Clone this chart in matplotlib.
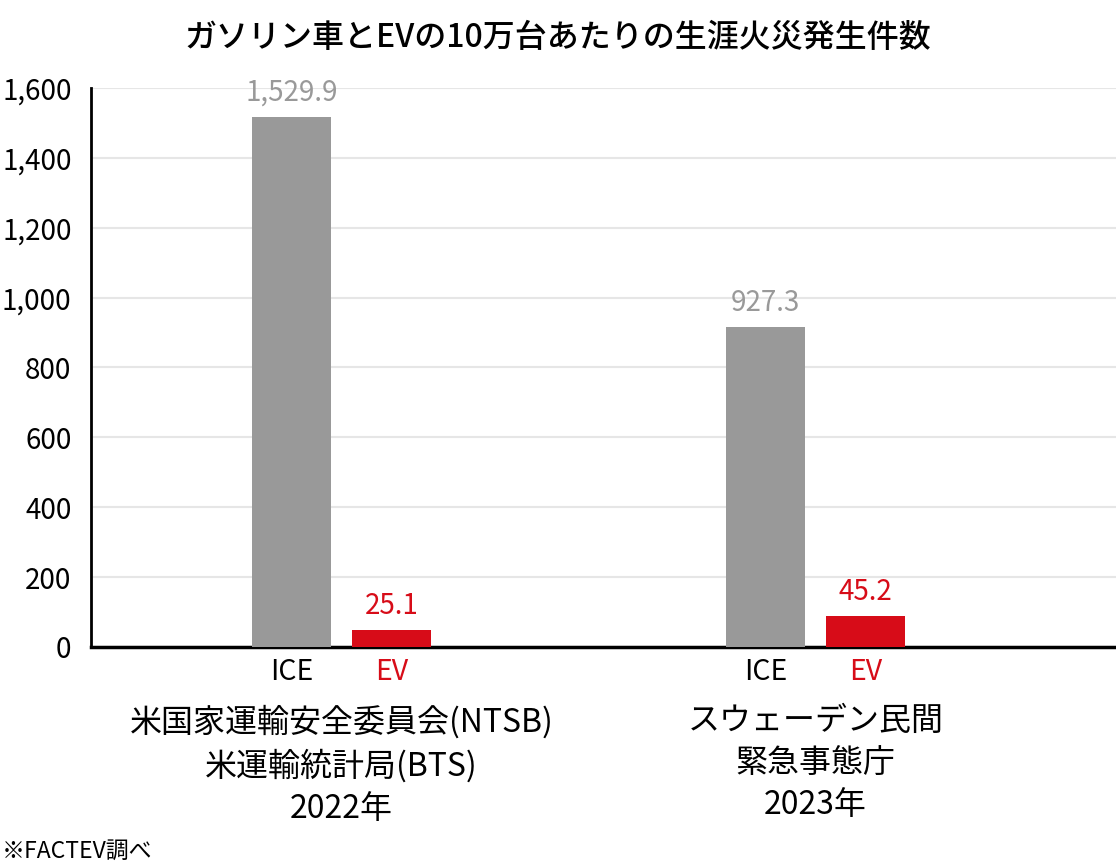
import matplotlib
matplotlib.use("Agg")
import matplotlib.pyplot as plt
from matplotlib.ticker import FuncFormatter

plt.rcParams['font.family'] = ['Noto Sans CJK JP', 'DejaVu Sans']

# data
groups = ['米国家運輸安全委員会(NTSB)\n米運輸統計局(BTS)\n2022年',
          'スウェーデン民間\n緊急事態庁\n2023年']
series = ['ICE', 'EV']
ice_labels = ['1,529.9', '927.3']
ev_labels = ['25.1', '45.2']
# bar heights as drawn in the picture
ice_heights = [1518, 917]
ev_heights = [49, 89]
yticks = [0, 200, 400, 600, 800, 1000, 1200, 1400, 1600]

gray = '#999999'
red = '#d70c18'

fig = plt.figure(figsize=(11.16, 8.66), dpi=100)
ax = fig.add_axes([0.0815, 0.2529, 0.9185, 0.6455])

w = 79 / 474
off = 50 / 474
xs = [0, 1]
for i, x in enumerate(xs):
    ax.bar(x - off, ice_heights[i], width=w, color=gray, zorder=3)
    ax.bar(x + off, ev_heights[i], width=w, color=red, zorder=3)
    ax.text(x - off, ice_heights[i] + 25, ice_labels[i], ha='center', va='bottom',
            fontsize=20, color=gray)
    ax.text(x + off, ev_heights[i] + 25, ev_labels[i], ha='center', va='bottom',
            fontsize=20, color=red)

ax.set_xlim((91 - 341.5) / 474, (1116 - 341.5) / 474)
ax.set_ylim(0, 1600)
ax.set_yticks(yticks)
ax.yaxis.set_major_formatter(FuncFormatter(lambda v, p: f'{int(v):,}'))
ax.tick_params(axis='y', length=0, labelsize=20, pad=14)
ax.set_xticks([])
ax.grid(axis='y', color='#e6e6e6', linewidth=1.5, zorder=0)
for s in ['top', 'right']:
    ax.spines[s].set_visible(False)
ax.spines['left'].set_linewidth(2)
ax.spines['bottom'].set_linewidth(2.5)

# series labels under each bar
for x in xs:
    ax.text(x - off, -28, series[0], ha='center', va='top',
            fontsize=20.5, color='black')
    ax.text(x + off, -28, series[1], ha='center', va='top',
            fontsize=20.5, color=red)
    ax.text(x, -167, groups[x], ha='center', va='top', fontsize=23,
            color='black', linespacing=1.4)

fig.text(0.5, 0.975, 'ガソリン車とEVの10万台あたりの生涯火災発生件数', ha='center', va='top',
         fontsize=23, fontweight='medium')
fig.text(0.002, 0.004, '※FACTEV調べ', ha='left', va='bottom', fontsize=16.5)

fig.savefig('out.png', dpi=100)
